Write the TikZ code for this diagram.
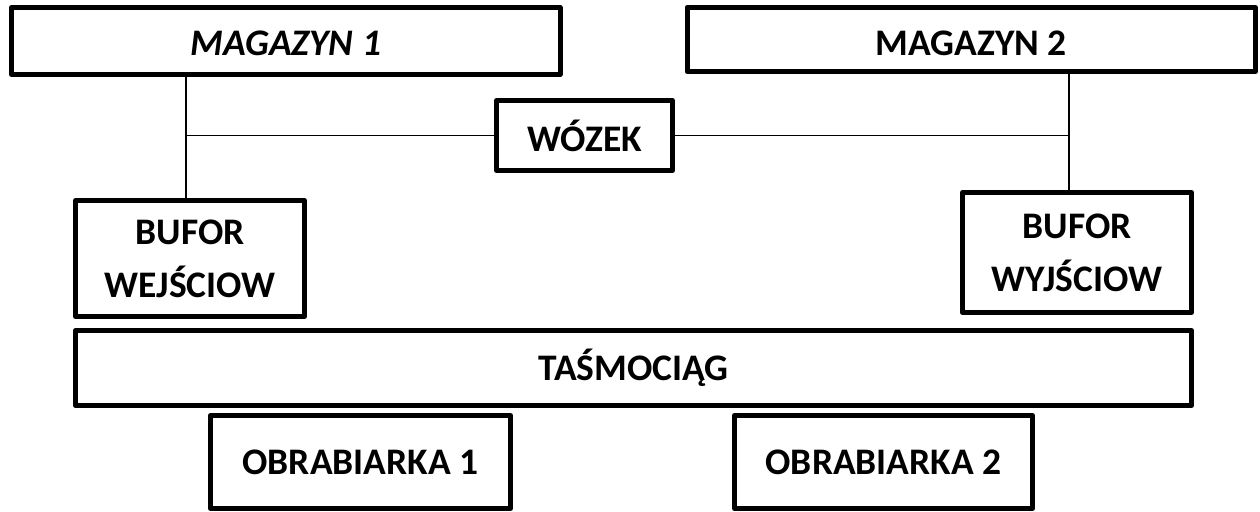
\documentclass[tikz,border=0pt]{standalone}
\usepackage{fontspec}
\setmainfont{Carlito}
\begin{document}
\begin{tikzpicture}[x=1pt,y=-1pt,
  box/.style={draw=black, line width=5pt, line join=round, inner sep=0pt, align=center,
    font=\fontsize{37.5}{53}\selectfont\bfseries},
  conn/.style={draw=black, line width=1.8pt}]
\useasboundingbox[fill=white] (0,0) rectangle (1260,511);
\node[box, minimum width=548.5pt, minimum height=67pt] (mag1) at (285.75,41) {\raisebox{-14.5pt}[0pt][0pt]{\itshape MAGAZYN 1}};
\node[box, minimum width=568.5pt, minimum height=64pt] (mag2) at (971.25,39.5) {\raisebox{-16pt}[0pt][0pt]{MAGAZYN 2}};
\node[box, minimum width=176pt, minimum height=70pt] (wozek) at (584.5,135.5) {WÓZEK};
\node[box, minimum width=229pt, minimum height=116pt] (bufwej) at (190,258.5) {BUFOR\\WEJŚCIOW};
\node[box, minimum width=229pt, minimum height=120pt] (bufwyj) at (1077,252.5) {BUFOR\\WYJŚCIOW};
\node[box, minimum width=1116pt, minimum height=75pt] (tasm) at (633.5,368) {TAŚMOCIĄG};
\node[box, minimum width=300pt, minimum height=93pt] (obr1) at (360.5,462) {OBRABIARKA 1};
\node[box, minimum width=298pt, minimum height=93pt] (obr2) at (883.5,462) {OBRABIARKA 2};
\coordinate (j1) at (186,135.5);
\coordinate (j2) at (1069,135.5);
\draw[conn] (j1 |- mag1.south) -- (j1 |- bufwej.north);
\draw[conn] (j2 |- mag2.south) -- (j2 |- bufwyj.north);
\draw[conn] (j1) -- (wozek.west);
\draw[conn] (wozek.east) -- (j2);
\end{tikzpicture}
\end{document}
